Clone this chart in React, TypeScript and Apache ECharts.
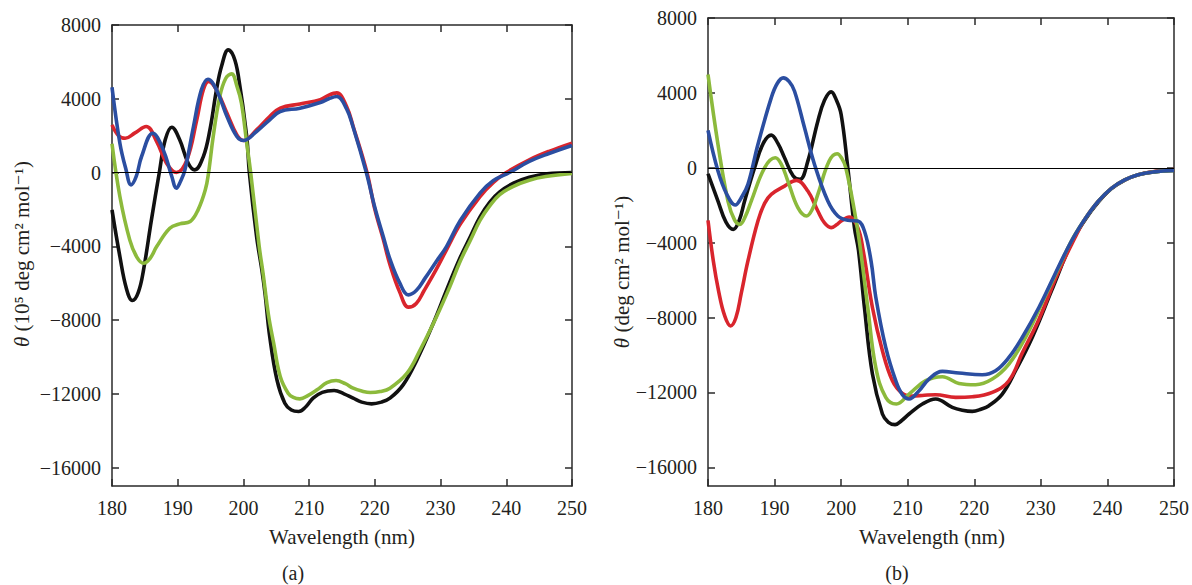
import React, { useEffect, useRef } from "react";
import * as echarts from "echarts";

// Wavelength ticks and theta ticks
const xTicks = [180, 190, 200, 210, 220, 230, 240, 250];
const yTicks = [-16000, -12000, -8000, -4000, 0, 4000, 8000];

// Panel (a) series: [wavelength nm, theta]
const aBlack = [
  [180, -2025], [181.2, -4556], [182.2, -6300], [183.1, -6943], [184, -6500], [184.8, -5279],
  [186, -2567], [187.2, 0], [188.1, 1772], [189.1, 2459], [190.3, 1772], [191.6, 506],
  [192.6, 145], [193.9, 868], [194.9, 2314], [195.9, 4484], [196.7, 5800], [197.7, 6650],
  [198.5, 6300], [199.2, 5300], [200.5, 1953], [200.9, 0], [202, -3471], [202.8, -5277],
  [203.3, -6600], [204, -8893], [205.1, -11243], [206.3, -12509], [207.3, -12880],
  [208.4, -12961], [209.5, -12700], [210.6, -12238], [212, -11920], [213.8, -11822],
  [215.3, -12000], [216.7, -12238], [218, -12450], [219.5, -12545], [221, -12450],
  [222.3, -12238], [224.3, -11515], [226.4, -10159], [228.9, -8170], [231, -6300],
  [233, -4600], [234.5, -3500], [236, -2400], [237.5, -1600], [239, -1050], [241.1, -580],
  [243.5, -260], [246.2, -70], [250, 0],
];
const aGreen = [
  [180, 1555], [181.2, -1302], [182.7, -3652], [183.8, -4600], [184.8, -4918], [185.8, -4650],
  [186.8, -4014], [188.8, -3019], [190.3, -2784], [191.9, -2658], [193.1, -2025], [194.2, -940],
  [194.7, 0], [195.4, 1953], [196.4, 4122], [197.3, 5100], [198.2, 5352], [199, 4700],
  [199.7, 3761], [200.5, 1591], [201.1, 0], [202.4, -4014], [203, -5500], [203.8, -7700],
  [204.6, -9255], [205.6, -11062], [206.8, -11967], [207.6, -12200], [208.6, -12274],
  [209.8, -12100], [211.2, -11786], [212.7, -11400], [214.1, -11280], [215.5, -11450],
  [216.7, -11696], [218, -11850], [219.3, -11930], [220.8, -11880], [222.3, -11696],
  [224.9, -10882], [226.9, -9616], [229.4, -7808], [231.4, -6200], [233, -4800],
  [234.5, -3700], [236, -2600], [237.5, -1800], [239, -1200], [241, -760], [243.5, -420],
  [246, -220], [250, -50],
];
const aRed = [
  [180, 2585], [181, 2000], [182, 1862], [183.5, 2150], [185.2, 2495], [186.8, 1681],
  [188.3, 506], [189.8, 0], [191.4, 687], [192.9, 2857], [193.9, 4484], [194.7, 4936],
  [195.9, 4484], [197.5, 3218], [199, 2043], [200, 1736], [202, 2314], [204, 3037],
  [205.6, 3490], [208.6, 3720], [211.7, 3950], [213, 4200], [214.2, 4320], [215.7, 3580],
  [216.7, 2495], [218.8, 0], [220, -2000], [221.3, -3650], [222.3, -5000], [223.8, -6500],
  [225.1, -7302], [226.3, -7100], [227.5, -6400], [229.3, -5280], [230.9, -4193],
  [233, -2800], [236, -1302], [238, -550], [240, 0], [243.5, 689], [246.5, 1150],
  [250, 1595],
];
const aBlue = [
  [180, 4629], [181.2, 1591], [182.1, 200], [182.9, -669], [183.7, -200], [184.5, 868],
  [186.2, 2133], [187.8, 1229], [189.1, -217], [189.8, -850], [190.4, -500], [191.1, 145],
  [192.4, 2495], [193.6, 4484], [194.6, 5062], [195.9, 4484], [197.5, 3037], [199, 1953],
  [200, 1736], [202, 2224], [204, 2857], [205.6, 3309], [208.6, 3490], [211.7, 3800],
  [213, 4000], [214.2, 4120], [215.7, 3450], [216.7, 2450], [218.7, 0], [220, -1900],
  [221.3, -3500], [222.3, -4700], [223.8, -6000], [225.1, -6633], [226.3, -6400],
  [227.7, -5700], [229.3, -4850], [230.9, -4014], [233, -2600], [236, -1120], [238, -450],
  [240.5, 0], [243.5, 600], [246.5, 1030], [250, 1465],
];

// Panel (b) series
const bBlack = [
  [180, -320], [181.5, -1778], [182.7, -2900], [183.8, -3290], [184.7, -2800], [185.5, -1778],
  [187, 0], [188.3, 1300], [189.5, 1742], [190.5, 1300], [191.5, 533], [192.8, -444],
  [193.8, -622], [195, 356], [196.5, 2489], [197.5, 3600], [198.5, 4053], [199.3, 3600],
  [200, 2845], [201, 0], [202, -3200], [202.6, -4400], [203.5, -7465], [204.7, -11021],
  [206.2, -13155], [207.1, -13600], [208.1, -13724], [209.1, -13500], [210.2, -13155],
  [212.2, -12621], [214.2, -12355], [216.7, -12799], [218.2, -12950], [219.7, -13012],
  [221, -12900], [222.2, -12710], [224.2, -12088], [226.2, -10843], [228.7, -9065],
  [231.6, -6576], [234.6, -4000], [236.6, -2800], [238.6, -1850], [240.6, -1120],
  [242.6, -660], [244.6, -380], [247, -220], [250, -142],
];
const bRed = [
  [180, -2809], [180.8, -4978], [181.6, -6600], [182.5, -7900], [183.4, -8450], [184.2, -8000],
  [185, -6700], [186, -4978], [187.5, -2845], [188.5, -1900], [189.5, -1422], [191.5, -978],
  [193.3, -676], [195, -1245], [196.5, -2311], [197.5, -2950], [198.5, -3200], [199.3, -3050],
  [200, -2845], [201.2, -2631], [202.5, -3200], [203.3, -4400], [204.7, -7465],
  [206.2, -9776], [207.7, -11376], [209.2, -12052], [210.7, -12194], [212.5, -12150],
  [214.2, -12123], [217.2, -12265], [219.7, -12230], [222.7, -11999], [225.2, -11376],
  [227.2, -9900], [229.7, -8100], [232.6, -5600], [235.1, -3750], [236.6, -2750],
  [238.6, -1800], [240.6, -1100], [242.6, -650], [244.6, -370], [247, -200], [250, -100],
];
const bGreen = [
  [180, 4978], [181.5, 1245], [183, -1778], [184, -2800], [184.8, -3022], [185.6, -2600],
  [186.5, -1778], [188.5, 0], [190.1, 533], [191, 200], [192, -711], [193.5, -2133],
  [194.8, -2578], [195.7, -2200], [196.5, -1422], [198.2, 356], [199.4, 747], [200.1, 500],
  [200.7, 0], [202, -2311], [202.8, -4100], [204, -7465], [205.2, -10665], [206.7, -12265],
  [208.3, -12621], [210.2, -12088], [212.7, -11376], [215.2, -11163], [217.7, -11519],
  [220.2, -11590], [222.7, -11287], [225.2, -10487], [227.7, -9065], [230.6, -6900],
  [232.6, -5400], [234.6, -3900], [236.6, -2750], [238.6, -1800], [240.6, -1100],
  [242.6, -650], [244.6, -370], [247, -220], [250, -142],
];
const bBlue = [
  [180, 1991], [181.5, -178], [182.8, -1400], [184.1, -1991], [185, -1600], [186, -889],
  [187.5, 1245], [189.5, 3734], [190.4, 4500], [191.3, 4800], [192.2, 4600], [193, 4089],
  [194.5, 2133], [196, 178], [198, -1778], [199.5, -2578], [201, -2809], [202.5, -2845],
  [203.5, -3378], [204.5, -5000], [205.2, -6900], [206.7, -9598], [208.2, -11376],
  [209.2, -12123], [210.2, -12355], [211.7, -11910], [213.2, -11287], [215.2, -10879],
  [217.7, -10967], [221.2, -11056], [223.2, -10843], [225.2, -10132], [227.2, -9065],
  [229.7, -7465], [232.1, -5700], [233.6, -4600], [235.1, -3600], [236.6, -2750],
  [238.6, -1800], [240.6, -1100], [242.6, -650], [244.6, -370], [247, -220], [250, -142],
];

const seriesColors = { black: "#111111", red: "#d9252d", green: "#8cba3c", blue: "#2b4ea1" };
const FONT = "'Liberation Serif', 'Times New Roman', 'DejaVu Serif', serif";
const TEXT = "#231f20";

function fmt(v: number) {
  return v < 0 ? "\u2212" + Math.abs(v) : String(v);
}

export default function App() {
  const ref = useRef<HTMLDivElement>(null);
  useEffect(() => {
    if (!ref.current) return;
    const chart = echarts.init(ref.current, undefined, { renderer: "svg" });
    const axisLine = { lineStyle: { color: "#2a2a2a", width: 1.5 } };
    const mkX = (gi: number, main: boolean) => ({
      type: "value",
      gridIndex: gi,
      position: main ? "bottom" : "top",
      min: xTicks[0],
      max: xTicks[xTicks.length - 1],
      interval: 10,
      axisLine: { show: true, onZero: false, ...axisLine },
      axisTick: { show: true, inside: true, length: 7, lineStyle: { color: "#2a2a2a", width: 1.5 } },
      axisLabel: { show: main, fontFamily: FONT, fontSize: 20, color: TEXT, margin: 12 },
      splitLine: { show: false },
    });
    const mkY = (gi: number, main: boolean) => ({
      type: "value",
      gridIndex: gi,
      position: main ? "left" : "right",
      min: -17000,
      max: 8000,
      axisLine: { show: true, onZero: false, ...axisLine },
      axisTick: {
        show: true, inside: true, length: 7, customValues: yTicks,
        lineStyle: { color: "#2a2a2a", width: 1.5 },
      },
      axisLabel: {
        show: main, customValues: yTicks, fontFamily: FONT, fontSize: 20, color: TEXT,
        margin: 11, formatter: (v: number) => fmt(v),
      },
      splitLine: { show: false },
    });
    const mkSeries = (name: string, data: number[][], color: string, gi: number, zero: boolean) => ({
      type: "line",
      name,
      xAxisIndex: gi * 2,
      yAxisIndex: gi * 2,
      data,
      smooth: 0.4,
      showSymbol: false,
      symbol: "none",
      lineStyle: { color, width: 3.6 },
      markLine: zero
        ? {
            silent: true,
            symbol: "none",
            label: { show: false },
            lineStyle: { color: "#000", width: 1, type: "solid" },
            data: [{ yAxis: 0 }],
          }
        : undefined,
    });
    const rot = Math.PI / 2;
    const textStyle = (text: string, size: number) => ({
      text,
      fontFamily: FONT,
      fontSize: size,
      fill: TEXT,
      align: "center",
      verticalAlign: "middle",
      rich: { i: { fontStyle: "italic", fontFamily: FONT, fontSize: size, fill: TEXT } },
    });
    chart.setOption({
      animation: false,
      grid: [
        { left: 112, top: 25, width: 460, height: 461 },
        { left: 708, top: 18, width: 468, height: 468 },
      ],
      xAxis: [mkX(0, true), mkX(0, false), mkX(1, true), mkX(1, false)],
      yAxis: [mkY(0, true), mkY(0, false), mkY(1, true), mkY(1, false)],
      series: [
        mkSeries("a-black", aBlack, seriesColors.black, 0, true),
        mkSeries("a-red", aRed, seriesColors.red, 0, false),
        mkSeries("a-green", aGreen, seriesColors.green, 0, false),
        mkSeries("a-blue", aBlue, seriesColors.blue, 0, false),
        mkSeries("b-black", bBlack, seriesColors.black, 1, true),
        mkSeries("b-red", bRed, seriesColors.red, 1, false),
        mkSeries("b-green", bGreen, seriesColors.green, 1, false),
        mkSeries("b-blue", bBlue, seriesColors.blue, 1, false),
      ],
      graphic: [
        { type: "text", x: 22, y: 254, rotation: rot, style: textStyle("{i|θ} (10⁵ deg cm² mol⁻¹)", 21) },
        { type: "text", x: 622, y: 272, rotation: rot, style: textStyle("{i|θ} (deg cm² mol⁻¹)", 21) },
        { type: "text", x: 342, y: 537, style: textStyle("Wavelength (nm)", 21) },
        { type: "text", x: 932, y: 537, style: textStyle("Wavelength (nm)", 21) },
        { type: "text", x: 293, y: 573, style: textStyle("(a)", 20) },
        { type: "text", x: 897, y: 573, style: textStyle("(b)", 20) },
      ],
    });
    return () => chart.dispose();
  }, []);
  return (
    <div
      ref={ref}
      style={{ position: "fixed", left: 0, top: 0, width: 1192, height: 585, background: "#fff" }}
    />
  );
}
